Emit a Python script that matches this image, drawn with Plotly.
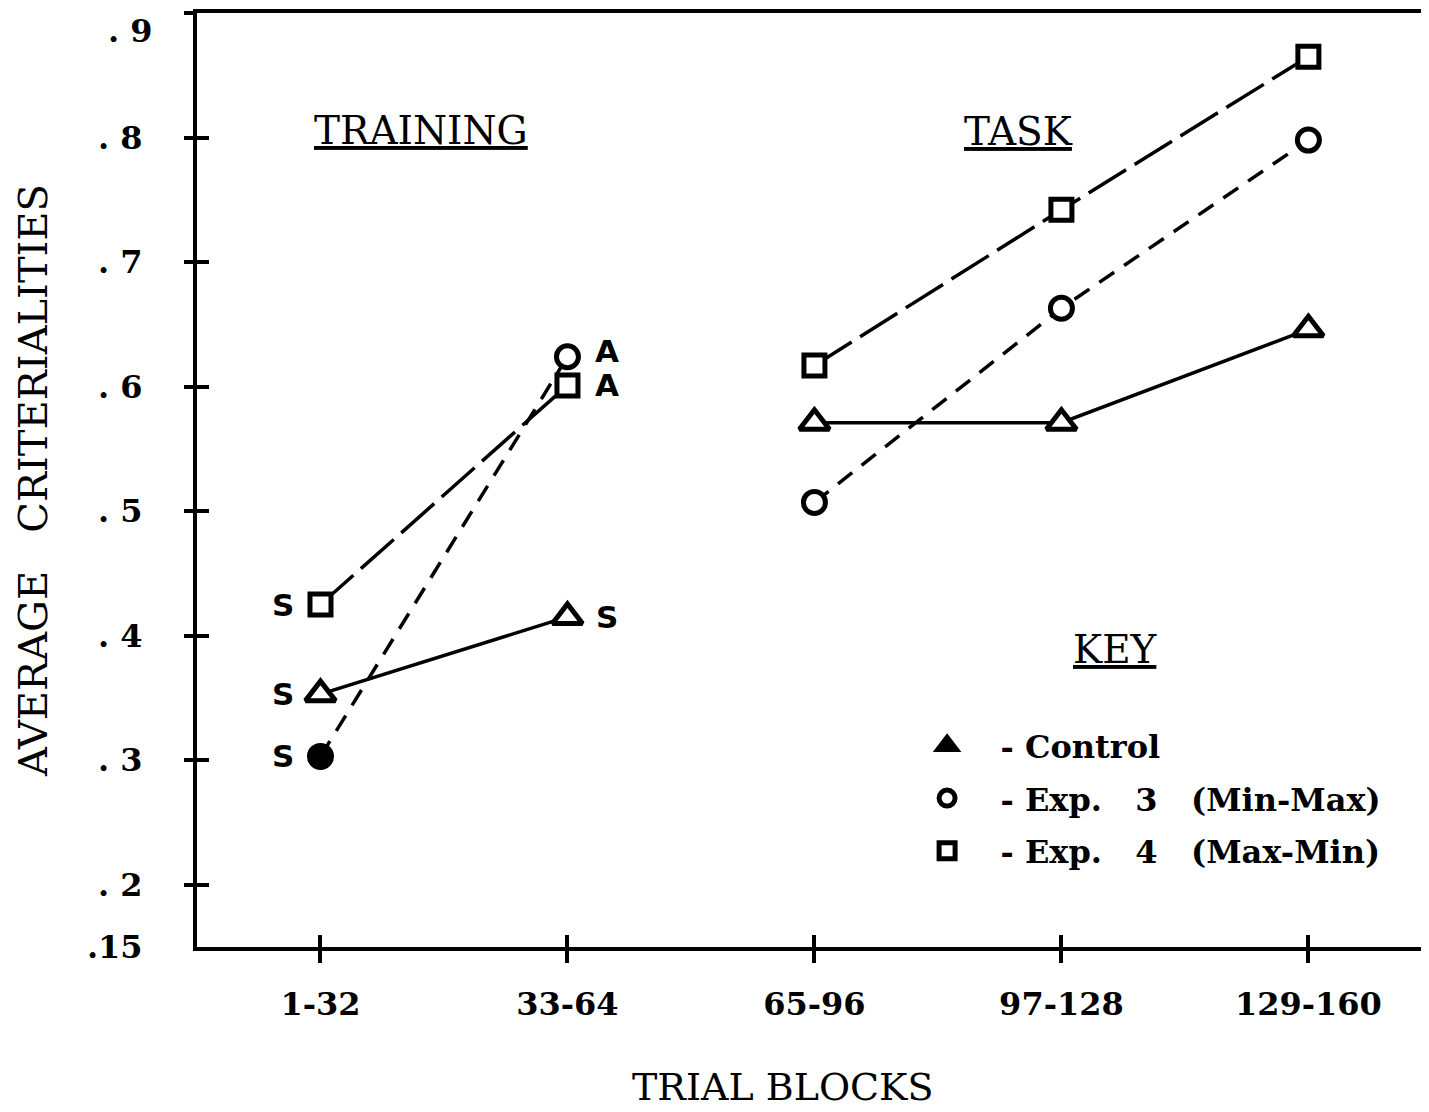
import plotly.graph_objects as go

blocks = ["1-32", "33-64", "65-96", "97-128", "129-160"]
xpos = [0, 1, 2, 3, 4]
control = [0.353, 0.415, 0.571, 0.571, 0.646]
exp3 = [0.303, 0.624, 0.507, 0.663, 0.798]
exp4 = [0.425, 0.601, 0.617, 0.742, 0.865]
ytick_vals = [0.15, 0.2, 0.3, 0.4, 0.5, 0.6, 0.7, 0.8, 0.9]
ytick_text = [".15", ". 2", ". 3", ". 4", ". 5", ". 6", ". 7", ". 8", ". 9"]
names = ["- Control", "- Exp.   3   (Min-Max)", "- Exp.   4   (Max-Min)"]

NB = "\u00a0"
series = [
    (control, "triangle-up", "solid", 26),
    (exp3, "circle", "18px,12px", 22),
    (exp4, "square", "44px,10px", 21),
]

fig = go.Figure()
for vals, sym, dash, msize in series:
    for seg in (slice(0, 2), slice(2, 5)):
        fig.add_trace(go.Scatter(
            x=xpos[seg], y=vals[seg], mode="lines+markers",
            line=dict(color="black", width=3.5, dash=dash),
            marker=dict(symbol=sym, size=msize, color="white",
                        line=dict(color="black", width=5)),
            showlegend=False,
        ))
# filled circle at first Exp 3 point
fig.add_trace(go.Scatter(x=[xpos[0]], y=[exp3[0]], mode="markers",
                         marker=dict(symbol="circle", size=24, color="black"),
                         showlegend=False))
# legend entries
legend_syms = ["triangle-up", "circle", "square"]
legend_fill = ["black", "white", "white"]
legend_size = [22, 18, 18]
for i, (sym, fill, name, ms) in enumerate(zip(legend_syms, legend_fill, names, legend_size)):
    fig.add_trace(go.Scatter(x=[None], y=[None], mode="markers",
                             name=NB * 3 + name.replace(" ", NB),
                             legendgroup=f"g{i}",
                             marker=dict(symbol=sym, size=ms, color=fill,
                                         line=dict(color="black", width=5))))

# S / A labels
lab_font = dict(family="DejaVu Sans", size=31, color="black")
for vals in (control, exp3, exp4):
    fig.add_annotation(x=xpos[0], y=vals[0], text="<b>S</b>", showarrow=False,
                       xshift=-37, font=lab_font)
fig.add_annotation(x=xpos[1], y=control[1], text="<b>S</b>", showarrow=False,
                   xshift=40, font=lab_font)
fig.add_annotation(x=xpos[1], y=exp3[1], text="<b>A</b>", showarrow=False,
                   xshift=40, yshift=6, font=lab_font)
fig.add_annotation(x=xpos[1], y=exp4[1], text="<b>A</b>", showarrow=False,
                   xshift=40, font=lab_font)

head_font = dict(family="DejaVu Serif", size=39, color="black")
fig.add_annotation(x=0.405, y=0.806, text="<u>TRAINING</u>", showarrow=False, font=head_font)
fig.add_annotation(x=2.826, y=0.805, text="<u>TASK</u>", showarrow=False, font=head_font)
fig.add_annotation(x=3.22, y=0.389, text="<u>KEY</u>", showarrow=False, font=head_font)

title_font = dict(family="DejaVu Serif", size=40, color="black")
fig.add_annotation(x=0.478, y=-0.15, xref="paper", yref="paper",
                   text="TRIAL" + NB + "BLOCKS", showarrow=False,
                   font=dict(family="DejaVu Serif", size=38, color="black"),
                   yanchor="middle")

tick_font = dict(family="DejaVu Serif", size=32, color="black", weight="bold")
# top tick label (.9) sits just below the frame corner, as in the original
fig.add_annotation(x=0, y=ytick_vals[-1], xref="paper", yref="y",
                   text=ytick_text[-1].replace(" ", NB), showarrow=False,
                   xanchor="right", yanchor="middle", xshift=-42, yshift=-18,
                   font=tick_font)

YR = [0.1499, 0.9001]
XR = [-0.5, 4.46]
fig.update_layout(
    width=1421, height=1104,
    margin=dict(l=189, r=7, t=5, b=165),
    paper_bgcolor="white", plot_bgcolor="white",
    showlegend=True,
    legend=dict(x=0.596, y=0.245, xanchor="left", yanchor="top",
                font=dict(family="DejaVu Serif", size=32, color="black", weight="bold"),
                bgcolor="rgba(0,0,0,0)", tracegroupgap=8, itemwidth=30),
    xaxis=dict(range=XR, tickvals=xpos, ticktext=blocks, automargin=False,
               showgrid=False, zeroline=False, showline=True, linecolor="black",
               linewidth=4, mirror=True, ticks="outside", ticklen=12, tickwidth=4,
               tickcolor="black", tickfont=tick_font, ticklabelstandoff=14,
               ticklabeloverflow="allow"),
    yaxis=dict(range=YR, tickvals=ytick_vals[:-1],
               ticktext=[t.replace(" ", NB) for t in ytick_text[:-1]],
               automargin=False, ticklabeloverflow="allow",
               showgrid=False, zeroline=False, showline=True, linecolor="black",
               linewidth=4, mirror=True, ticks="", tickfont=tick_font, ticklabelstandoff=44,
               title=dict(text="AVERAGE" + NB * 3 + "CRITERIALITIES", font=title_font,
                          standoff=28)),
    xaxis2=dict(range=XR, overlaying="x", tickvals=xpos, showticklabels=False,
                ticks="inside", ticklen=12, tickwidth=4, tickcolor="black",
                showgrid=False, zeroline=False, showline=False),
    yaxis2=dict(range=YR, overlaying="y", tickvals=ytick_vals[1:], showticklabels=False,
                ticks="inside", ticklen=12, tickwidth=4, tickcolor="black",
                showgrid=False, zeroline=False, showline=False),
    yaxis3=dict(range=YR, overlaying="y", tickvals=ytick_vals[1:], showticklabels=False,
                ticks="outside", ticklen=12, tickwidth=4, tickcolor="black",
                showgrid=False, zeroline=False, showline=False),
)
fig.add_trace(go.Scatter(x=[None], y=[None], xaxis="x2", yaxis="y2", showlegend=False))
fig.add_trace(go.Scatter(x=[None], y=[None], xaxis="x2", yaxis="y3", showlegend=False))
fig.write_html("out.html")
